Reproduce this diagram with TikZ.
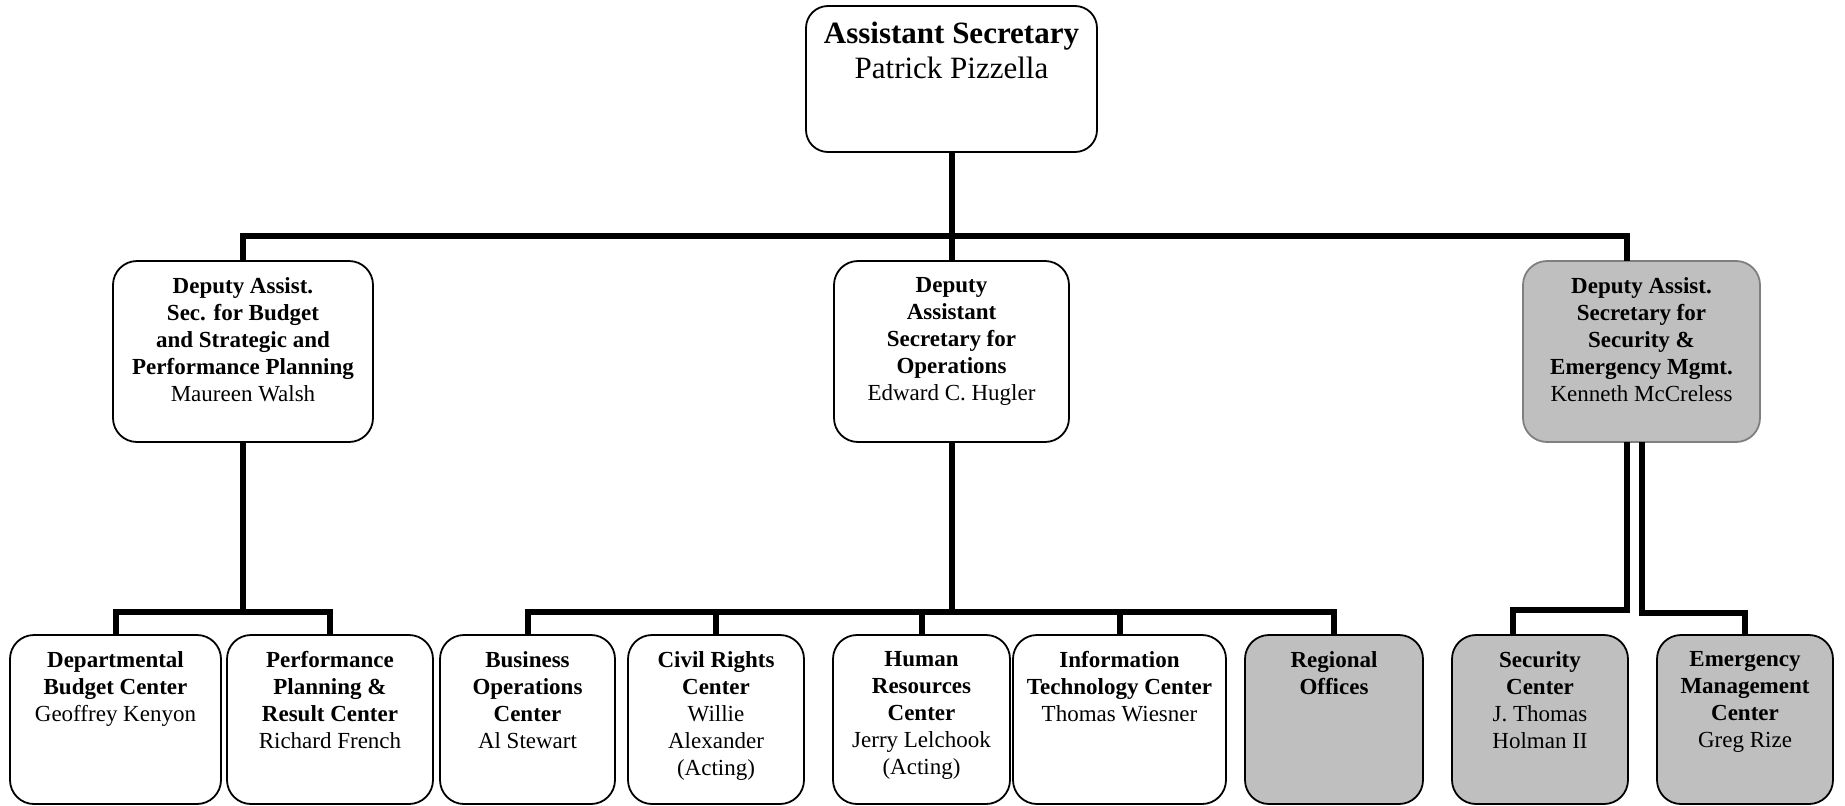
\documentclass[tikz,border=0pt]{standalone}
\usepackage{fontspec}
\setmainfont{Liberation Serif}
\usetikzlibrary{calc}
\definecolor{boxgray}{HTML}{BFBFBF}
\definecolor{edgegray}{HTML}{7F7F7F}
\tikzset{
  orgbox/.style={draw=black, line width=1.8pt, rounded corners=24pt, fill=white, inner sep=0pt, outer sep=0pt},
  graybox/.style={orgbox, fill=boxgray},
  conn/.style={draw=black, line width=6pt, line join=miter, line cap=butt},
  txt/.style={anchor=north, align=center, inner sep=0pt, font=\fontsize{23}{27}\selectfont},
  bigtxt/.style={anchor=north, align=center, inner sep=0pt, font=\fontsize{31}{35}\selectfont}
}
\begin{document}
\begin{tikzpicture}[x=1pt,y=1pt]
\useasboundingbox (0,0) rectangle (1845,-806);
% top
\node[orgbox, rounded corners=22pt, minimum width=291pt, minimum height=146pt] (top) at (951.5,-79) {};
\node[bigtxt] (toptxt) at ($(top.north)+(0,-16)$) {\textbf{Assistant Secretary}\\Patrick Pizzella};
% second level
\node[orgbox, minimum width=260pt, minimum height=181pt] (dl) at (243,-351.5) {};
\node[orgbox, minimum width=235pt, minimum height=181pt] (dm) at (951.5,-351.5) {};
\node[graybox, draw=edgegray, minimum width=237pt, minimum height=181pt] (dr) at (1641.5,-351.5) {};
\node[txt] (dltxt) at ($(dl.north)+(0,-16.5)$) {\textbf{Deputy Assist.}\\\textbf{Sec. for Budget}\\\textbf{and Strategic and}\\\textbf{Performance Planning}\\Maureen Walsh};
\node[txt] (dmtxt) at ($(dm.north)+(0,-16.5)$) {\textbf{Deputy}\\\textbf{Assistant}\\\textbf{Secretary for}\\\textbf{Operations}\\Edward C. Hugler};
\node[txt] (drtxt) at ($(dr.north)+(0,-16.5)$) {\textbf{Deputy Assist.}\\\textbf{Secretary for}\\\textbf{Security \&}\\\textbf{Emergency Mgmt.}\\Kenneth McCreless};
% third level
\node[orgbox, minimum width=211pt, minimum height=169pt] (c1) at (115.5,-719.5) {};
\node[orgbox, minimum width=206pt, minimum height=169pt] (c2) at (330,-719.5) {};
\node[orgbox, minimum width=175pt, minimum height=169pt] (c3) at (527.5,-719.5) {};
\node[orgbox, minimum width=176pt, minimum height=169pt] (c4) at (716,-719.5) {};
\node[orgbox, minimum width=177pt, minimum height=169pt] (c5) at (921.5,-719.5) {};
\node[orgbox, minimum width=213pt, minimum height=169pt] (c6) at (1119.5,-719.5) {};
\node[graybox, minimum width=178pt, minimum height=169pt] (c7) at (1334,-719.5) {};
\node[graybox, minimum width=176pt, minimum height=169pt] (c8) at (1540,-719.5) {};
\node[graybox, minimum width=176pt, minimum height=169pt] (c9) at (1745,-719.5) {};
\node[txt] (t1) at ($(c1.north)+(0,-16.5)$) {\textbf{Departmental}\\\textbf{Budget Center}\\Geoffrey Kenyon};
\node[txt] (t2) at ($(c2.north)+(0,-16.5)$) {\textbf{Performance}\\\textbf{Planning \&}\\\textbf{Result Center}\\Richard French};
\node[txt] (t3) at ($(c3.north)+(0,-16.5)$) {\textbf{Business}\\\textbf{Operations}\\\textbf{Center}\\Al Stewart};
\node[txt] (t4) at ($(c4.north)+(0,-16.5)$) {\textbf{Civil Rights}\\\textbf{Center}\\Willie\\Alexander\\(Acting)};
\node[txt] (t5) at ($(c5.north)+(0,-16.5)$) {\textbf{Human}\\\textbf{Resources}\\\textbf{Center}\\Jerry Lelchook\\(Acting)};
\node[txt] (t6) at ($(c6.north)+(0,-16.5)$) {\textbf{Information}\\\textbf{Technology Center}\\Thomas Wiesner};
\node[txt] (t7) at ($(c7.north)+(0,-16.5)$) {\textbf{Regional}\\\textbf{Offices}};
\node[txt] (t8) at ($(c8.north)+(0,-16.5)$) {\textbf{Security}\\\textbf{Center}\\J. Thomas\\Holman II};
\node[txt] (t9) at ($(c9.north)+(0,-16.5)$) {\textbf{Emergency}\\\textbf{Management}\\\textbf{Center}\\Greg Rize};
% coordinates
\coordinate (bus1) at (0,-236);
\coordinate (bus2) at (0,-612);
\coordinate (busR1) at (0,-610);
\coordinate (busR2) at (0,-613);
\coordinate (drin) at (1627,-261);
\coordinate (drout1) at (1627,-442);
\coordinate (drout2) at (1642,-442);
\coordinate (c8in) at (1513,-635);
% connectors
\draw[conn] (top.south) -- (dm.north);
\draw[conn] (dl.north) -- (dl.north |- bus1) -- (drin |- bus1) -- (drin);
\draw[conn] (dl.south) -- (dl.south |- bus2);
\draw[conn] (c1.north) -- (c1.north |- bus2) -- (c2.north |- bus2) -- (c2.north);
\draw[conn] (dm.south) -- (dm.south |- bus2);
\draw[conn] (c3.north) -- (c3.north |- bus2) -- (c7.north |- bus2) -- (c7.north);
\draw[conn] (c4.north) -- (c4.north |- bus2);
\draw[conn] (c5.north) -- (c5.north |- bus2);
\draw[conn] (c6.north) -- (c6.north |- bus2);
\draw[conn] (drout1) -- (drout1 |- busR1) -- (c8in |- busR1) -- (c8in);
\draw[conn] (drout2) -- (drout2 |- busR2) -- (c9.north |- busR2) -- (c9.north);
\end{tikzpicture}
\end{document}
